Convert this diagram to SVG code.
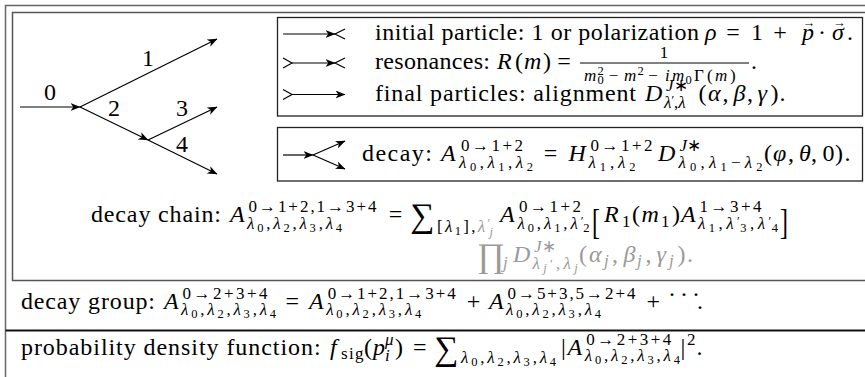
<svg xmlns="http://www.w3.org/2000/svg" width="865" height="377" viewBox="0 0 865 377" font-family="'Liberation Serif', serif">
<defs>
<style>
.m { font-family: 'Liberation Serif', serif; font-size: 24px; fill: #000; }
.s { font-family: 'Liberation Serif', serif; font-size: 17px; fill: #000; }
.ss { font-family: 'Liberation Serif', serif; font-size: 12.5px; }
.big { font-size: 34px; }
.i { font-style: italic; }
.n { font-style: normal; }
.g { fill: #9a9a9a; }
.c { text-anchor: middle; }
.ln { stroke: #000; stroke-width: 1.2; fill: none; }
.arr { stroke: #000; stroke-width: 1.2; fill: none; marker-end: url(#ah); }
.box { fill: none; stroke: #222; stroke-width: 1.3; }
</style>
<marker id="ah" viewBox="0 0 10 8" refX="9.5" refY="4" markerWidth="10" markerHeight="8" markerUnits="userSpaceOnUse" orient="auto">
<path d="M0,0 L10,4 L0,8 L2.8,4 Z" fill="#000"/>
</marker>
</defs>
<rect width="865" height="377" fill="#fff"/>

<g id="frames">
<rect x="5.5" y="5.5" width="875" height="390" fill="none" stroke="#666" stroke-width="1.5"/>
<rect x="12.5" y="12.5" width="870" height="268" fill="none" stroke="#555" stroke-width="1.5"/>
<line x1="5.5" y1="330.5" x2="865" y2="330.5" stroke="#111" stroke-width="2"/>
</g>

<g id="connectors">
<line class="arr" x1="20" y1="107" x2="80" y2="107"/>
<line class="arr" x1="80" y1="107" x2="217" y2="39"/>
<line class="arr" x1="80" y1="107" x2="148" y2="140"/>
<line class="arr" x1="148" y1="140" x2="217" y2="107"/>
<line class="arr" x1="148" y1="140" x2="217" y2="174"/>
</g>

<g id="labels">
<text class="m c" x="50" y="100">0</text>
<text class="m c" x="148" y="66">1</text>
<text class="m c" x="114" y="116">2</text>
<text class="m c" x="182" y="116">3</text>
<text class="m c" x="182" y="152">4</text>
</g>

<g id="legend">
<rect class="box" x="277.5" y="17.5" width="585" height="98.5"/>
<line class="arr" x1="283" y1="34" x2="335" y2="34"/>
<polyline class="ln" points="345,29 335,34 345,39"/>
<polyline class="ln" points="283,58 292,63 283,68"/>
<line class="arr" x1="292" y1="63" x2="335" y2="63"/>
<polyline class="ln" points="345,58 335,63 345,68"/>
<polyline class="ln" points="283,89.5 292,94.5 283,99.5"/>
<line class="arr" x1="292" y1="94.5" x2="345" y2="94.5"/>

<text class="m" x="375" y="40" textLength="324" lengthAdjust="spacing">initial particle: 1 or polarization</text>
<text class="m i" x="705" y="40">ρ</text>
<text class="m c" x="733" y="40">=</text>
<text class="m c" x="757" y="40">1</text>
<text class="m c" x="780" y="40">+</text>
<text class="m i" x="802" y="40">p</text>
<text class="ss c" x="809" y="26.5">→</text>
<text class="m c" x="822" y="40">·</text>
<text class="m i" x="832" y="40">σ</text>
<text class="ss c" x="839.5" y="26.5">→</text>
<text class="m" x="847" y="40">.</text>

<text class="m" x="375" y="69" textLength="115" lengthAdjust="spacing">resonances:</text>
<text class="m i" x="497" y="69">R</text>
<text class="m" x="515" y="69">(</text>
<text class="m i" x="524" y="69">m</text>
<text class="m" x="543" y="69">)</text>
<text class="m c" x="564" y="69">=</text>
<line x1="580" y1="63" x2="749" y2="63" stroke="#000" stroke-width="1"/>
<text class="s c" x="664" y="57.5">1</text>
<text class="s i" x="584" y="80.5">m</text>
<text class="ss" x="597.5" y="75">2</text>
<text class="ss" x="597.5" y="84">0</text>
<text class="s c" x="613.5" y="80.5">−</text>
<text class="s i" x="624" y="80.5">m</text>
<text class="ss" x="637.5" y="75">2</text>
<text class="s c" x="653" y="80.5">−</text>
<text class="s i" x="665" y="80.5">i</text>
<text class="s i" x="672" y="80.5">m</text>
<text class="ss" x="685.5" y="84">0</text>
<text class="s" x="694" y="80.5">Γ</text>
<text class="s" x="707" y="80.5">(</text>
<text class="s i" x="715" y="80.5">m</text>
<text class="s" x="730" y="80.5">)</text>
<text class="m" x="751" y="69">.</text>

<text class="m" x="375" y="100.5" textLength="261" lengthAdjust="spacing">final particles: alignment</text>
<text class="m i" x="645" y="100.5">D</text>
<text class="s" x="666" y="90.5"><tspan class="i">J</tspan>∗</text>
<text class="s i" x="664" y="107.5">λ<tspan class="ss n" dy="-4">′</tspan><tspan class="n" dy="4">,</tspan>λ</text>
<text class="m" x="698.5" y="100.5">(</text>
<text class="m i" x="708" y="100.5">α</text>
<text class="m" x="722.5" y="100.5">,</text>
<text class="m i" x="733.5" y="100.5">β</text>
<text class="m" x="747" y="100.5">,</text>
<text class="m i" x="757.5" y="100.5">γ</text>
<text class="m" x="770.5" y="100.5">)</text>
<text class="m" x="779.5" y="100.5">.</text>
</g>

<g id="decay">
<rect class="box" x="277.5" y="127.5" width="585" height="53.5"/>
<line class="arr" x1="283" y1="155" x2="313" y2="155"/>
<line class="arr" x1="313" y1="155" x2="345" y2="141"/>
<line class="arr" x1="313" y1="155" x2="345" y2="169"/>
<text class="m" x="362" y="161" textLength="70" lengthAdjust="spacing">decay:</text>
<text class="m i" x="441" y="161">A</text>
<text class="s" x="461" y="151" textLength="62">0→1+2</text>
<text class="s i" x="459" y="167.5" textLength="74">λ<tspan class="ss n" dy="3">0</tspan><tspan class="n" dy="-3">,</tspan>λ<tspan class="ss n" dy="3">1</tspan><tspan class="n" dy="-3">,</tspan>λ<tspan class="ss n" dy="3">2</tspan></text>
<text class="m c" x="550.5" y="161">=</text>
<text class="m i" x="568.5" y="161">H</text>
<text class="s" x="590.5" y="151" textLength="62">0→1+2</text>
<text class="s i" x="588.5" y="167.5" textLength="47">λ<tspan class="ss n" dy="3">1</tspan><tspan class="n" dy="-3">,</tspan>λ<tspan class="ss n" dy="3">2</tspan></text>
<text class="m i" x="658" y="161">D</text>
<text class="s" x="679.5" y="151"><tspan class="i">J</tspan>∗</text>
<text class="s i" x="678.5" y="167.5" textLength="84">λ<tspan class="ss n" dy="3">0</tspan><tspan class="n" dy="-3">,</tspan>λ<tspan class="ss n" dy="3">1</tspan><tspan class="n" dy="-3">−</tspan>λ<tspan class="ss n" dy="3">2</tspan></text>
<text class="m" x="764" y="161">(</text>
<text class="m i" x="773" y="161">φ</text>
<text class="m" x="788" y="161">,</text>
<text class="m i" x="799" y="161">θ</text>
<text class="m" x="811" y="161">,</text>
<text class="m" x="822.5" y="161">0</text>
<text class="m" x="835" y="161">)</text>
<text class="m" x="844.5" y="161">.</text>
</g>

<g id="chain">
<text class="m" x="91" y="222" textLength="130" lengthAdjust="spacing">decay chain:</text>
<text class="m i" x="230" y="222">A</text>
<text class="s" x="248.5" y="212" textLength="128">0→1+2,1→3+4</text>
<text class="s i" x="247" y="228.5" textLength="95.1">λ<tspan class="ss n" dy="3">0</tspan><tspan class="n" dy="-3">,</tspan>λ<tspan class="ss n" dy="3">2</tspan><tspan class="n" dy="-3">,</tspan>λ<tspan class="ss n" dy="3">3</tspan><tspan class="n" dy="-3">,</tspan>λ<tspan class="ss n" dy="3">4</tspan></text>
<text class="m c" x="395.6" y="222">=</text>
<text class="m big" x="410" y="227">∑</text>
<text class="s" x="437" y="232" textLength="56">[<tspan class="i">λ</tspan><tspan class="ss" dy="3">1</tspan><tspan dy="-3">],</tspan><tspan class="i g">λ</tspan><tspan class="ss g" dy="-5">′</tspan><tspan class="ss i g" dx="-3" dy="9">j</tspan></text>
<text class="m i" x="500" y="222">A</text>
<text class="s" x="519" y="212" textLength="62">0→1+2</text>
<text class="s i" x="517.5" y="228.5" textLength="72">λ<tspan class="ss n" dy="3">0</tspan><tspan class="n" dy="-3">,</tspan>λ<tspan class="ss n" dy="3">1</tspan><tspan class="n" dy="-3">,</tspan>λ<tspan class="ss n" dy="-4">′</tspan><tspan class="ss n" dx="-3" dy="7">2</tspan></text>
<text class="m" font-size="32" transform="translate(592,234) scale(1,1.45)">[</text>
<text class="m i" x="604" y="222">R</text>
<text class="s" x="622" y="227">1</text>
<text class="m" x="632" y="222">(</text>
<text class="m i" x="641.5" y="222">m</text>
<text class="s" x="661" y="227">1</text>
<text class="m" x="672" y="222">)</text>
<text class="m i" x="681" y="222">A</text>
<text class="s" x="699.5" y="212" textLength="62">1→3+4</text>
<text class="s i" x="698" y="228.5" textLength="79.9">λ<tspan class="ss n" dy="3">1</tspan><tspan class="n" dy="-3">,</tspan>λ<tspan class="ss n" dy="-4">′</tspan><tspan class="ss n" dx="-3" dy="7">3</tspan><tspan class="n" dy="-3">,</tspan>λ<tspan class="ss n" dy="-4">′</tspan><tspan class="ss n" dx="-3" dy="7">4</tspan></text>
<text class="m" font-size="32" transform="translate(780,234) scale(1,1.45)">]</text>

<text class="m big g" x="477" y="267">∏</text>
<text class="s i g" x="503" y="268">j</text>
<text class="m i g" x="513" y="262">D</text>
<text class="s g" x="534" y="252"><tspan class="i">J</tspan>∗</text>
<text class="s i g" x="532.5" y="269" textLength="45.3">λ<tspan class="ss" dy="3">j</tspan><tspan class="ss n" dy="-4">′</tspan><tspan class="n" dy="1">,</tspan>λ<tspan class="ss" dy="3">j</tspan></text>
<text class="m g" x="579" y="262">(</text>
<text class="m i g" x="589" y="262">α</text>
<text class="s i g" x="604" y="266">j</text>
<text class="m g" x="612" y="262">,</text>
<text class="m i g" x="623.5" y="262">β</text>
<text class="s i g" x="637" y="266">j</text>
<text class="m g" x="645.5" y="262">,</text>
<text class="m i g" x="656.5" y="262">γ</text>
<text class="s i g" x="669" y="266">j</text>
<text class="m g" x="677.5" y="262">)</text>
<text class="m g" x="687" y="262">.</text>
</g>

<g id="group">
<text class="m" x="21" y="308.5" textLength="134" lengthAdjust="spacing">decay group:</text>
<text class="m i" x="164" y="308.5">A</text>
<text class="s" x="182.5" y="298.5" textLength="85">0→2+3+4</text>
<text class="s i" x="181" y="315" textLength="95.1">λ<tspan class="ss n" dy="3">0</tspan><tspan class="n" dy="-3">,</tspan>λ<tspan class="ss n" dy="3">2</tspan><tspan class="n" dy="-3">,</tspan>λ<tspan class="ss n" dy="3">3</tspan><tspan class="n" dy="-3">,</tspan>λ<tspan class="ss n" dy="3">4</tspan></text>
<text class="m c" x="292.2" y="308.5">=</text>
<text class="m i" x="309" y="308.5">A</text>
<text class="s" x="327.7" y="298.5" textLength="128">0→1+2,1→3+4</text>
<text class="s i" x="326.2" y="315" textLength="95.1">λ<tspan class="ss n" dy="3">0</tspan><tspan class="n" dy="-3">,</tspan>λ<tspan class="ss n" dy="3">2</tspan><tspan class="n" dy="-3">,</tspan>λ<tspan class="ss n" dy="3">3</tspan><tspan class="n" dy="-3">,</tspan>λ<tspan class="ss n" dy="3">4</tspan></text>
<text class="m c" x="473.4" y="308.5">+</text>
<text class="m i" x="489" y="308.5">A</text>
<text class="s" x="507.5" y="298.5" textLength="128">0→5+3,5→2+4</text>
<text class="s i" x="506" y="315" textLength="95.1">λ<tspan class="ss n" dy="3">0</tspan><tspan class="n" dy="-3">,</tspan>λ<tspan class="ss n" dy="3">2</tspan><tspan class="n" dy="-3">,</tspan>λ<tspan class="ss n" dy="3">3</tspan><tspan class="n" dy="-3">,</tspan>λ<tspan class="ss n" dy="3">4</tspan></text>
<text class="m c" x="653.3" y="308.5">+</text>
<text class="m" x="668" y="302" letter-spacing="4">···</text>
<text class="m" x="697" y="308.5">.</text>
</g>

<g id="pdf">
<text class="m" x="21" y="354.5" textLength="299.6" lengthAdjust="spacing">probability density function:</text>
<text class="m i" x="330" y="354.5">f</text>
<text class="s" x="341" y="358.5" textLength="22.6">sig</text>
<text class="m" x="364" y="354.5">(</text>
<text class="m i" x="373" y="354.5">p</text>
<text class="s i" x="385" y="345">μ</text>
<text class="s i" x="385" y="361">i</text>
<text class="m" x="395" y="354.5">)</text>
<text class="m c" x="419.7" y="354.5">=</text>
<text class="m big" x="434" y="359.5">∑</text>
<text class="s i" x="461" y="363" textLength="95.1">λ<tspan class="ss n" dy="3">0</tspan><tspan class="n" dy="-3">,</tspan>λ<tspan class="ss n" dy="3">2</tspan><tspan class="n" dy="-3">,</tspan>λ<tspan class="ss n" dy="3">3</tspan><tspan class="n" dy="-3">,</tspan>λ<tspan class="ss n" dy="3">4</tspan></text>
<text class="m" x="561" y="354.5">|</text>
<text class="m i" x="567.5" y="354.5">A</text>
<text class="s" x="586.3" y="344.5" textLength="85">0→2+3+4</text>
<text class="s i" x="584.8" y="361" textLength="95.1">λ<tspan class="ss n" dy="3">0</tspan><tspan class="n" dy="-3">,</tspan>λ<tspan class="ss n" dy="3">2</tspan><tspan class="n" dy="-3">,</tspan>λ<tspan class="ss n" dy="3">3</tspan><tspan class="n" dy="-3">,</tspan>λ<tspan class="ss n" dy="3">4</tspan></text>
<text class="m" x="680.5" y="354.5">|</text>
<text class="s" x="687" y="344.5">2</text>
<text class="m" x="696.5" y="354.5">.</text>
</g>
</svg>
